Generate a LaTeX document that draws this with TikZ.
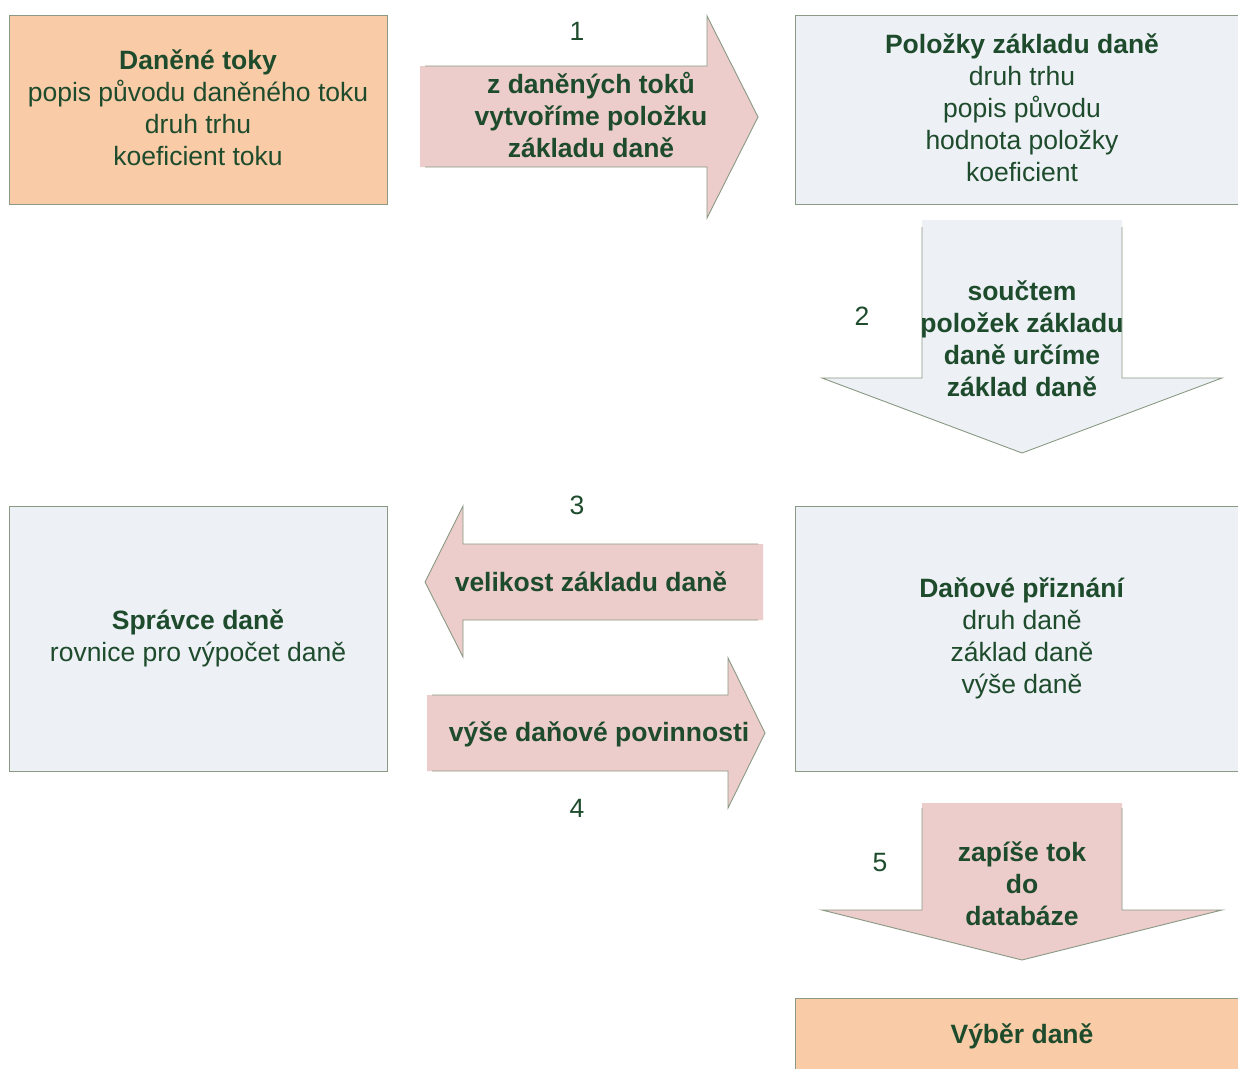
\documentclass[tikz,border=0pt]{standalone}
\usepackage{fontspec}
\setmainfont{Liberation Sans}
\definecolor{peach}{HTML}{F9CBA7}
\definecolor{paleblue}{HTML}{EDF0F5}
\definecolor{rose}{HTML}{ECCDCB}
\definecolor{edge}{HTML}{8A9A85}
\definecolor{ink}{HTML}{1D4B2C}
\tikzset{
  box/.style={draw=edge, line width=0.9pt},
  arrowedge/.style={draw=edge, line width=0.9pt, line join=miter},
  txt/.style={text=ink, align=center, inner sep=0pt,
              font=\fontsize{26.5}{32}\selectfont},
  boldtxt/.style={txt, font=\bfseries\fontsize{26.5}{32}\selectfont},
  num/.style={text=ink, inner sep=0pt, font=\fontsize{26.5}{32}\selectfont},
}
\begin{document}
\begin{tikzpicture}[x=1pt,y=-1pt]
\useasboundingbox (0,0) rectangle (1238,1068);
\clip (0,0) rectangle (1238,1068);
\fill[white] (0,0) rectangle (1238,1068);

% boxes
\filldraw[box, fill=peach]    (9,15)   rectangle (387,204);
\filldraw[box, fill=paleblue] (795,15) rectangle (1249,204);
\filldraw[box, fill=paleblue] (9,506)  rectangle (387,771);
\filldraw[box, fill=paleblue] (795,506) rectangle (1249,771);
\filldraw[box, fill=peach]    (795,998) rectangle (1249,1072);

\node[txt] (toky) at (198,108) {\textbf{Daněné toky}\\popis původu daněného toku\\druh trhu\\koeficient toku};
\node[txt] (polozky) at (1022,108) {\textbf{Položky základu daně}\\druh trhu\\popis původu\\hodnota položky\\koeficient};
\node[txt] (spravce) at (198,638) {\textbf{Správce daně}\\rovnice pro výpočet daně};
\node[txt] (priznani) at (1022,638) {\textbf{Daňové přiznání}\\druh daně\\základ daně\\výše daně};
\node[txt] (vyber) at (1022,1036) {\textbf{Výběr daně}};

% arrow 1 (right)
\fill[rose] (420,66) -- (707,66) -- (707,16) -- (758,117) -- (707,218) -- (707,167) -- (420,167) -- cycle;
\draw[arrowedge] (425,66) -- (707,66) -- (707,16) -- (758,117) -- (707,218) -- (707,167) -- (425,167);
\node[boldtxt] (a1) at (591,115) {z daněných toků\\vytvoříme položku\\základu daně};
\node[num] (n1) at (577,31) {1};

% arrow 2 (down)
\fill[paleblue] (922,220) -- (922,378) -- (822,378) -- (1022,453) -- (1222,378) -- (1122,378) -- (1122,220) -- cycle;
\draw[arrowedge] (922,227) -- (922,378) -- (822,378) -- (1022,453) -- (1222,378) -- (1122,378) -- (1122,227);
\node[boldtxt] (a2) at (1022,339) {součtem\\položek základu\\daně určíme\\základ daně};
\node[num] (n2) at (862,316) {2};

% arrow 3 (left)
\fill[rose] (763,544) -- (463,544) -- (463,506) -- (425,582) -- (463,657) -- (463,620) -- (763,620) -- cycle;
\draw[arrowedge] (758,544) -- (463,544) -- (463,506) -- (425,582) -- (463,657) -- (463,620) -- (758,620);
\node[boldtxt] (a3) at (591,582) {velikost základu daně};
\node[num] (n3) at (577,505) {3};

% arrow 4 (right)
\fill[rose] (427,695) -- (728,695) -- (728,658) -- (765,733) -- (728,808) -- (728,771) -- (427,771) -- cycle;
\draw[arrowedge] (432,695) -- (728,695) -- (728,658) -- (765,733) -- (728,808) -- (728,771) -- (432,771);
\node[boldtxt] (a4) at (599,734) {výše daňové povinnosti};
\node[num] (n4) at (577,808) {4};

% arrow 5 (down)
\fill[rose] (922,803) -- (922,910) -- (822,910) -- (1022,960) -- (1222,910) -- (1122,910) -- (1122,803) -- cycle;
\draw[arrowedge] (922,808) -- (922,910) -- (822,910) -- (1022,960) -- (1222,910) -- (1122,910) -- (1122,808);
\node[boldtxt] (a5) at (1022,884) {zapíše tok\\do\\databáze};
\node[num] (n5) at (880,862) {5};
\end{tikzpicture}
\end{document}
